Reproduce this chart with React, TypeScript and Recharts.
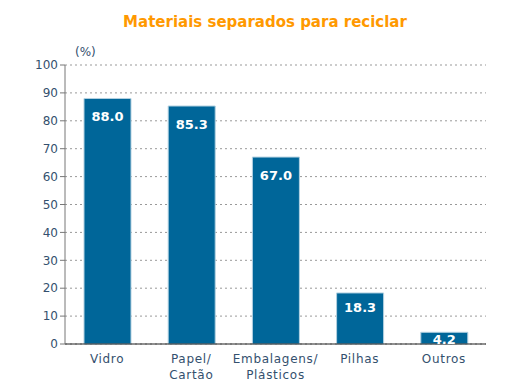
import { BarChart, Bar, XAxis, YAxis, CartesianGrid, LabelList } from "recharts";

const categories = ["Vidro", "Papel/\nCartão", "Embalagens/\nPlásticos", "Pilhas", "Outros"];
const values = [88.0, 85.3, 67.0, 18.3, 4.2];
const yTicks = [0, 10, 20, 30, 40, 50, 60, 70, 80, 90, 100];
const edgeTicks = [0, 1, 2, 3, 4, 5];

const data = categories.map((name, i) => ({ name, value: values[i] }));

const FONT = "'DejaVu Sans', Verdana, sans-serif";
const LABEL_COLOR = "#34506e";

function CategoryTick({ x, y, payload }: any) {
  const lines = String(payload.value).split("\n");
  return (
    <text x={x} y={y} textAnchor="middle" fill={LABEL_COLOR} fontSize={12} fontFamily={FONT} letterSpacing={0.7}>
      {lines.map((line, i) => (
        <tspan key={i} x={x} dy={i === 0 ? 11 : 16}>
          {line}
        </tspan>
      ))}
    </text>
  );
}

// value label near the top of each bar, pulled down less on short bars
function BarValue({ x, y, width, height, value }: any) {
  const drop = Math.min(18.5, Math.max(7, height * 0.28));
  return (
    <text
      x={x + width / 2}
      y={y + drop}
      textAnchor="middle"
      dominantBaseline="central"
      fill="#fff"
      fontSize={13}
      fontWeight="bold"
      fontFamily={FONT}
    >
      {Number(value).toFixed(1)}
    </text>
  );
}

export default function App() {
  return (
    <div style={{ position: "absolute", left: 0, top: 0, width: 515, height: 387, background: "#fff", fontFamily: FONT }}>
      <div
        style={{
          position: "absolute",
          left: 0,
          width: 530,
          top: 12,
          textAlign: "center",
          color: "#ff9900",
          fontWeight: "bold",
          fontSize: 15,
          lineHeight: "20px",
        }}
      >
        Materiais separados para reciclar
      </div>
      <div style={{ position: "absolute", left: 75, top: 44, color: LABEL_COLOR, fontSize: 12, lineHeight: "16px" }}>(%)</div>
      <BarChart
        width={515}
        height={387}
        data={data}
        margin={{ top: 65, right: 29, left: 0, bottom: 3 }}
      >
        <CartesianGrid vertical={false} stroke="#999" strokeDasharray="2 3" />
        <XAxis
          xAxisId="edges"
          type="number"
          domain={[0, 5]}
          ticks={edgeTicks}
          tick={false}
          axisLine={false}
          tickLine={{ stroke: "#222" }}
          tickSize={4}
          height={0}
          allowDataOverflow
        />
        <XAxis
          dataKey="name"
          interval={0}
          tickLine={false}
          axisLine={{ stroke: "#222" }}
          tick={<CategoryTick />}
          height={40}
        />
        <YAxis
          domain={[0, 100]}
          ticks={yTicks}
          interval={0}
          width={65}
          tickSize={5}
          axisLine={{ stroke: "#777" }}
          tickLine={{ stroke: "#777" }}
          tick={{ fill: LABEL_COLOR, fontSize: 12, fontFamily: FONT }}
        />
        <Bar dataKey="value" fill="#006699" stroke="#b3d1e1" strokeWidth={1} barSize={47} isAnimationActive={false}>
          <LabelList dataKey="value" content={<BarValue />} />
        </Bar>
      </BarChart>
    </div>
  );
}
